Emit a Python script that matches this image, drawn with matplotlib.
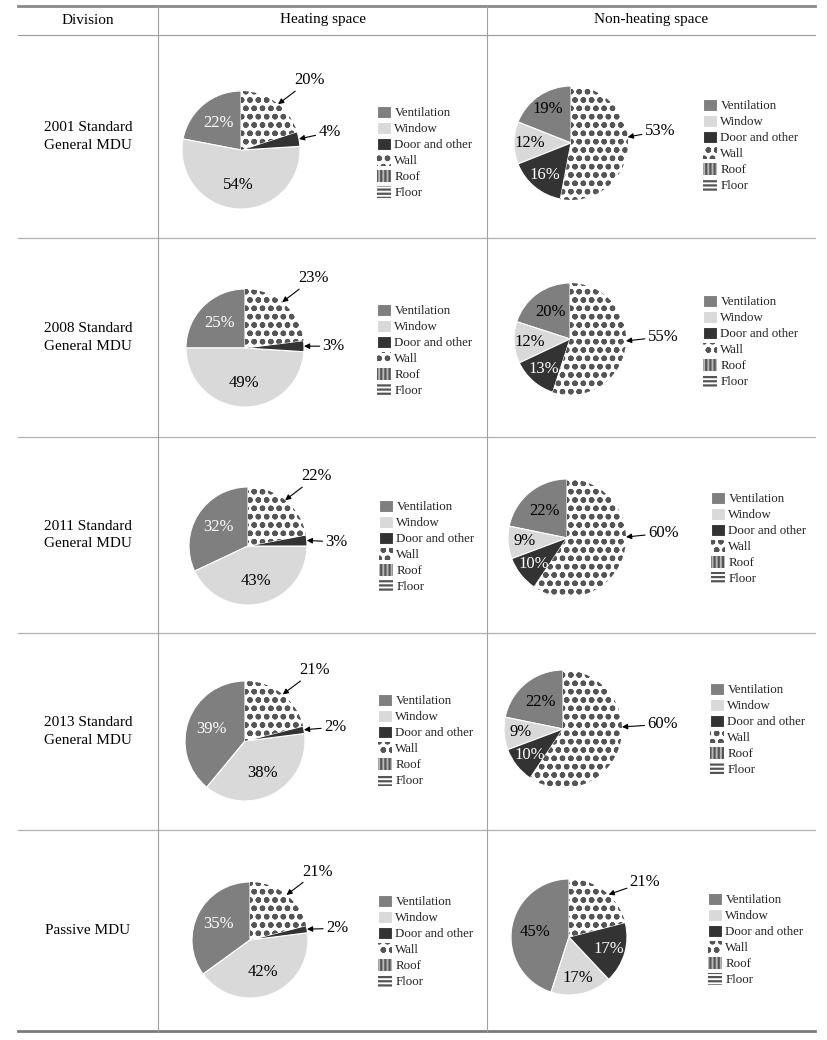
import numpy as np
import matplotlib.pyplot as plt

plt.rcParams['font.family'] = ['Liberation Serif', 'DejaVu Serif']
plt.rcParams['hatch.color'] = '#555555'
plt.rcParams['hatch.linewidth'] = 1.6

W, H = 827, 1040

# data (percent shares)
categories = ["Ventilation", "Window", "Door and other", "Wall", "Roof", "Floor"]
divisions = ["2001 Standard\nGeneral MDU", "2008 Standard\nGeneral MDU",
             "2011 Standard\nGeneral MDU", "2013 Standard\nGeneral MDU",
             "Passive MDU"]
col_titles = ["Division", "Heating space", "Non-heating space"]

heating = [
    [22, 54, 4, 20, 0, 0],
    [25, 49, 3, 23, 0, 0],
    [32, 43, 3, 22, 0, 0],
    [39, 38, 2, 21, 0, 0],
    [35, 42, 2, 21, 0, 0],
]
non_heating = [
    [19, 12, 16, 53, 0, 0],
    [20, 12, 13, 55, 0, 0],
    [22, 9, 10, 60, 0, 0],
    [22, 9, 10, 60, 0, 0],
    [45, 17, 17, 21, 0, 0],
]

# styles
fills = ['#7f7f7f', '#d9d9d9', '#333333', 'white', '#b8b8b8', 'white']
hatches = [None, None, None, 'oo', '||||', '----']

# layout (pixels)
row_lines = [35, 238, 437, 633, 830, 1031]
x_left, x_div, x_mid, x_right = 18, 158, 487, 815
heat_pies = [(241, 150, 59), (245, 348, 59), (248, 546, 59), (245, 741, 60), (250, 940, 58)]
non_pies = [(571, 143, 57), (570, 339, 56), (567, 538, 59), (563, 729, 59), (569, 937, 58)]
heat_leg = [(377, 114), (377, 312), (379, 508), (378, 702), (378, 903)]
non_leg = [(703, 107), (703, 303), (711, 500), (710, 691), (708, 901)]
door_text_y = [0.3, 0.03, 0.07, 0.23, 0.2]
non_wall_text = [(1.56, 0.21, 6), (1.66, 0.04, -2), (1.63, 0.08, 1), (1.69, 0.08, 2), (1.31, 0.95, 47)]

fig = plt.figure(figsize=(W / 100, H / 100), dpi=100)
bg = fig.add_axes([0, 0, 1, 1])
bg.set_xlim(0, W)
bg.set_ylim(H, 0)
bg.axis('off')

# table rules
bg.plot([x_left, x_right], [6, 6], color='#8a8a8a', lw=2.0)
bg.plot([x_left, x_right], [35, 35], color='#9a9a9a', lw=0.8)
for y in row_lines[1:-1]:
    bg.plot([x_left, x_right], [y, y], color='#b0b0b0', lw=0.9)
bg.plot([x_left, x_right], [1031, 1031], color='#7a7a7a', lw=2.0)
for x in (x_div, x_mid):
    bg.plot([x, x], [6, 1031], color='#a0a0a0', lw=0.8)

bg.text((x_left + x_div) / 2, 20, col_titles[0], ha='center', va='center', fontsize=11)
bg.text((x_div + x_mid) / 2, 20, col_titles[1], ha='center', va='center', fontsize=11)
bg.text((x_mid + x_right) / 2, 20, col_titles[2], ha='center', va='center', fontsize=11)
for i, name in enumerate(divisions):
    yc = (row_lines[i] + row_lines[i + 1]) / 2
    bg.text((x_left + x_div) / 2, yc, name, ha='center', va='center',
            fontsize=11, linespacing=1.45)


def draw_pie(center, values, text_colors, outside, leg_pos):
    cx, cy, r = center
    k = 1.1
    ax = fig.add_axes([(cx - k * r) / W, 1 - (cy + k * r) / H, 2 * k * r / W, 2 * k * r / H])
    wedges, _ = ax.pie(values, colors=fills, hatch=hatches, startangle=90,
                       counterclock=True, wedgeprops=dict(linewidth=0))
    for w, h in zip(wedges, hatches):
        if h is None:
            w.set_edgecolor('white')
            w.set_linewidth(0.8)
    ax.set_xlim(-k, k)
    ax.set_ylim(-k, k)
    ax.set_aspect('equal')
    ax.axis('off')
    total = sum(values)
    for i, (w, v) in enumerate(zip(wedges, values)):
        if v == 0:
            continue
        mid = np.deg2rad((w.theta1 + w.theta2) / 2)
        if i in outside:
            tx, ty, tip = outside[i]
            a = mid if tip is None else np.deg2rad(tip)
            ax.annotate(f"{v}%", xy=(np.cos(a), np.sin(a)), xytext=(tx, ty),
                        ha='center', va='center', fontsize=12,
                        arrowprops=dict(arrowstyle='-|>', color='black', lw=0.8,
                                        mutation_scale=8, shrinkA=0, shrinkB=0),
                        annotation_clip=False)
        else:
            d = 0.6 if v / total >= 0.2 else 0.72
            ax.text(d * np.cos(mid), d * np.sin(mid), f"{v}%", ha='center',
                    va='center', fontsize=12, color=text_colors[i])
    lx, ly = leg_pos
    fig.legend(wedges, categories, loc='upper left',
               bbox_to_anchor=(lx / W, 1 - (ly - 8) / H), frameon=False,
               fontsize=9.3, handlelength=1.05, handleheight=1.05,
               handletextpad=0.3, labelspacing=0.2, borderpad=0,
               borderaxespad=0, labelcolor='#222222')


for row in range(5):
    draw_pie(heat_pies[row], heating[row],
             ['white', 'black', 'white', 'black', 'black', 'black'],
             {3: (1.16, 1.18, 51), 2: (1.5, door_text_y[row], None)},
             heat_leg[row])
    tx, ty, ta = non_wall_text[row]
    draw_pie(non_pies[row], non_heating[row],
             ['black', 'black', 'white', 'black', 'black', 'black'],
             {3: (tx, ty, ta)},
             non_leg[row])

fig.savefig('out.png', dpi=100)
